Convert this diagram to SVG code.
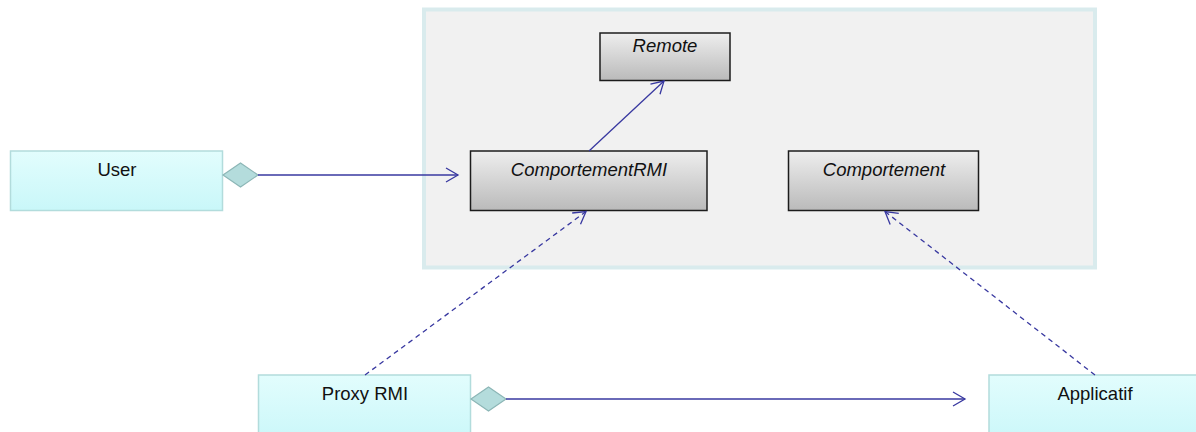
<svg xmlns="http://www.w3.org/2000/svg" width="1196" height="432" viewBox="0 0 1196 432">
  <defs>
    <linearGradient id="gradGray" x1="0" y1="0" x2="0" y2="1">
      <stop offset="0" stop-color="#eeeeee"/>
      <stop offset="1" stop-color="#bababa"/>
    </linearGradient>
    <linearGradient id="gradCyan" x1="0" y1="0" x2="0" y2="1">
      <stop offset="0" stop-color="#e2fdfd"/>
      <stop offset="1" stop-color="#c9f7f9"/>
    </linearGradient>
    <marker id="openArrow" markerUnits="userSpaceOnUse" markerWidth="14" markerHeight="16" viewBox="0 0 14 16" refX="12" refY="8" orient="auto" overflow="visible">
      <path d="M0,1 L12,8 L0,15" fill="none" stroke="#3838a0" stroke-width="1.3"/>
    </marker>
    <style>
      .iface rect { fill: url(#gradGray); stroke: #1c1c1c; stroke-width: 1.5; }
      .cls rect { fill: url(#gradCyan); stroke: #b2dcdc; stroke-width: 1.5; }
      .iface text { font-family: "Liberation Sans", Arial, sans-serif; font-style: italic; font-size: 18.5px; fill: #111; text-anchor: middle; }
      .cls text { font-family: "Liberation Sans", Arial, sans-serif; font-size: 18.5px; fill: #111; text-anchor: middle; }
      .link { fill: none; stroke: #3838a0; stroke-width: 1.3; marker-end: url(#openArrow); }
      .dep { stroke-dasharray: 5 4; }
      .diamond { fill: #b4dcdc; stroke: #8cb6b6; stroke-width: 1.2; }
    </style>
  </defs>

  <rect width="1196" height="432" fill="#ffffff"/>

  <!-- package frame -->
  <g id="package">
    <rect x="424" y="9.5" width="671" height="258" fill="#f1f1f1" stroke="#d9ebed" stroke-width="4"/>
  </g>

  <!-- interfaces -->
  <g id="remote" class="iface">
    <rect x="600" y="33" width="130" height="47.5"/>
    <text x="665" y="51.5">Remote</text>
  </g>
  <g id="comportementRMI" class="iface">
    <rect x="470.5" y="151" width="236.5" height="59.5"/>
    <text x="589" y="176">ComportementRMI</text>
  </g>
  <g id="comportement" class="iface">
    <rect x="788.5" y="151" width="190" height="59.5"/>
    <text x="884" y="176">Comportement</text>
  </g>

  <!-- classes -->
  <g id="user" class="cls">
    <rect x="10.5" y="151" width="212" height="59.5"/>
    <text x="117" y="176">User</text>
  </g>
  <g id="proxyRMI" class="cls">
    <rect x="258.5" y="375" width="212" height="70"/>
    <text x="365" y="400">Proxy RMI</text>
  </g>
  <g id="applicatif" class="cls">
    <rect x="989" y="375" width="220" height="70"/>
    <text x="1095" y="400">Applicatif</text>
  </g>

  <!-- connectors -->
  <g id="connectors">
    <!-- User aggregates ComportementRMI -->
    <polygon class="diamond" points="223,175 240.5,163 258,175 240.5,187"/>
    <line class="link" x1="258" y1="175" x2="458" y2="175"/>
    <!-- Proxy RMI aggregates Applicatif -->
    <polygon class="diamond" points="471,399 488.5,387 506,399 488.5,411"/>
    <line class="link" x1="506" y1="399" x2="965" y2="399"/>
    <!-- ComportementRMI extends Remote -->
    <line class="link" x1="589" y1="151" x2="664" y2="81"/>
    <!-- realizations -->
    <line class="link dep" x1="365" y1="375" x2="586" y2="211.5"/>
    <line class="link dep" x1="1095" y1="375" x2="885" y2="211.5"/>
  </g>
</svg>
